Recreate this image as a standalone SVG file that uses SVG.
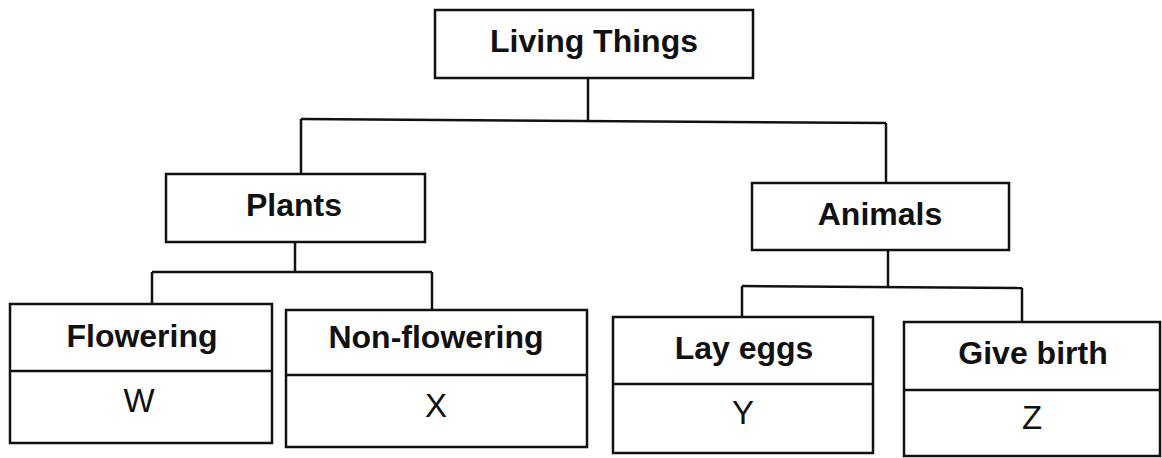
<svg xmlns="http://www.w3.org/2000/svg" width="1162" height="458" viewBox="0 0 1162 458">
<style>
.box{fill:#fff;stroke:#111;stroke-width:2.5}
.div{stroke:#111;stroke-width:2.5}
.con{fill:none;stroke:#111;stroke-width:2.5}
.h{font-family:"Liberation Sans",Arial,sans-serif;font-weight:bold;font-size:32px;fill:#111;text-anchor:middle}
.v{font-family:"Liberation Sans",Arial,sans-serif;font-size:33px;fill:#111;text-anchor:middle}
</style>
<rect width="1162" height="458" fill="#fff"/>
<g id="connectors">
<path class="con" d="M588 78V121"/>
<path class="con" d="M301 119L886 123"/>
<path class="con" d="M301 119V174"/>
<path class="con" d="M886 123V183"/>
<path class="con" d="M295 242V272"/>
<path class="con" d="M152 272H432"/>
<path class="con" d="M152 272V303"/>
<path class="con" d="M432 272V310"/>
<path class="con" d="M888 250V287"/>
<path class="con" d="M742 286L1022 288"/>
<path class="con" d="M742 286V317"/>
<path class="con" d="M1022 288V322"/>
</g>
<g id="living-things">
<rect class="box" x="435" y="10" width="318" height="68"/>
<text class="h" x="594" y="52">Living Things</text>
</g>
<g id="plants">
<rect class="box" x="166" y="174" width="259" height="68"/>
<text class="h" x="294" y="216">Plants</text>
</g>
<g id="animals">
<rect class="box" x="752" y="183" width="257" height="67"/>
<text class="h" x="880" y="225">Animals</text>
</g>
<g id="flowering">
<rect class="box" x="10" y="304" width="262" height="139"/>
<line class="div" x1="10" y1="371" x2="272" y2="371"/>
<text class="h" x="142" y="347">Flowering</text>
<text class="v" x="139" y="412">W</text>
</g>
<g id="non-flowering">
<rect class="box" x="286" y="310" width="301" height="137"/>
<line class="div" x1="286" y1="375" x2="587" y2="375"/>
<text class="h" x="436" y="348">Non-flowering</text>
<text class="v" x="436" y="417">X</text>
</g>
<g id="lay-eggs">
<rect class="box" x="613" y="317" width="260" height="136"/>
<line class="div" x1="613" y1="384" x2="873" y2="384"/>
<text class="h" x="744" y="359">Lay eggs</text>
<text class="v" x="743" y="424">Y</text>
</g>
<g id="give-birth">
<rect class="box" x="904" y="322" width="256" height="134"/>
<line class="div" x1="904" y1="390" x2="1160" y2="390"/>
<text class="h" x="1033" y="364">Give birth</text>
<text class="v" x="1032" y="429">Z</text>
</g>
</svg>
